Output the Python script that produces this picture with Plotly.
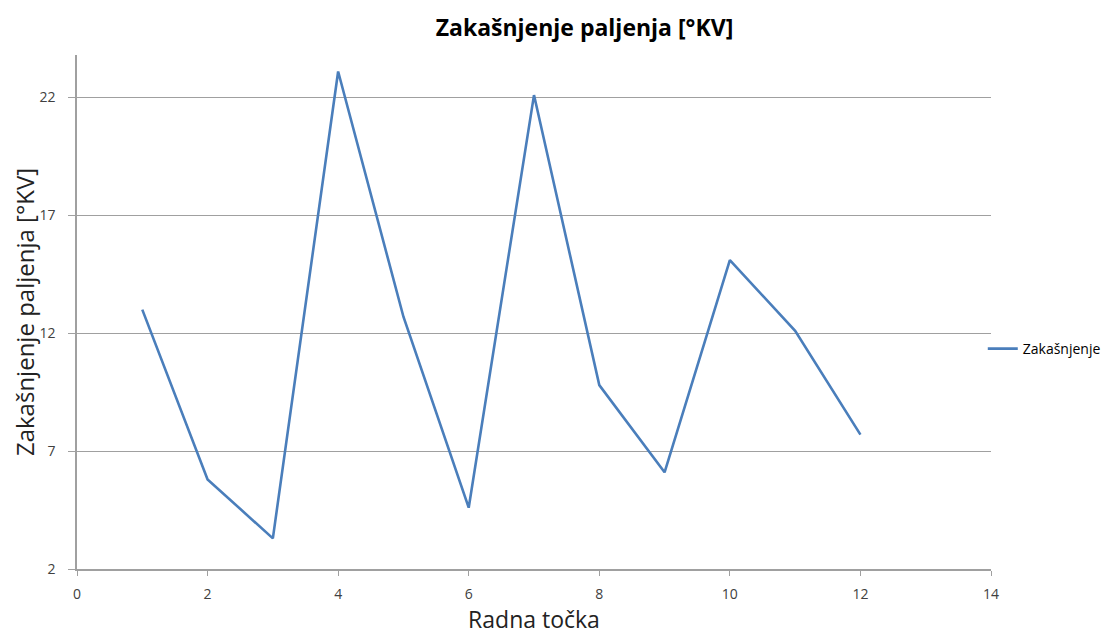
import plotly.graph_objects as go

radna_tocka = [1, 2, 3, 4, 5, 6, 7, 8, 9, 10, 11, 12]
zakasnjenje = [13.0, 5.8, 3.3, 23.1, 12.7, 4.6, 22.1, 9.8, 6.1, 15.1, 12.1, 7.7]
x_ticks = [0, 2, 4, 6, 8, 10, 12, 14]
y_ticks = [2, 7, 12, 17, 22]

font_family = "Open Sans, Liberation Sans, sans-serif"

fig = go.Figure()
fig.add_trace(go.Scatter(
    x=radna_tocka, y=zakasnjenje, mode="lines", name="Zakašnjenje",
    line=dict(color="#4a7ebb", width=2.6),
))

fig.update_layout(
    width=1105, height=627,
    margin=dict(l=69, r=122, t=47, b=66, autoexpand=False),
    paper_bgcolor="white", plot_bgcolor="white",
    font=dict(family=font_family, color="#404040"),
    title=dict(text="<b>Zakašnjenje paljenja [°KV]</b>", x=0.5217, xanchor="center",
               yref="container", y=0.968, yanchor="middle",
               font=dict(size=23, color="#000000", family=font_family)),
    showlegend=True,
    legend=dict(x=0.991, xanchor="left", y=0.428, yanchor="middle",
                font=dict(size=14, color="#000000"), itemwidth=30,
                bgcolor="rgba(0,0,0,0)"),
    xaxis=dict(
        range=[0, 14], tickvals=x_ticks, ticktext=[str(v) for v in x_ticks],
        showgrid=False, zeroline=False, automargin=False,
        showline=True, linecolor="#a0a0a0", linewidth=1.5,
        ticks="outside", ticklen=5, tickcolor="#a0a0a0", ticklabelstandoff=6,
        tickfont=dict(size=14, color="#404040"),
        title=dict(text="Radna točka", font=dict(size=23, color="#222222"), standoff=26),
    ),
    yaxis=dict(
        range=[2, 23.8], tickvals=y_ticks, ticktext=[str(v) for v in y_ticks],
        showgrid=True, gridcolor="#a0a0a0", gridwidth=1.2, zeroline=False, automargin=False,
        showline=True, linecolor="#a0a0a0", linewidth=1.5,
        ticks="outside", ticklen=7, tickcolor="#a0a0a0", ticklabelstandoff=10,
        tickfont=dict(size=14, color="#404040"),
        title=dict(text="Zakašnjenje paljenja [°KV]", font=dict(size=24, color="#222222"), standoff=6),
    ),
)

fig.write_html("out.html")
